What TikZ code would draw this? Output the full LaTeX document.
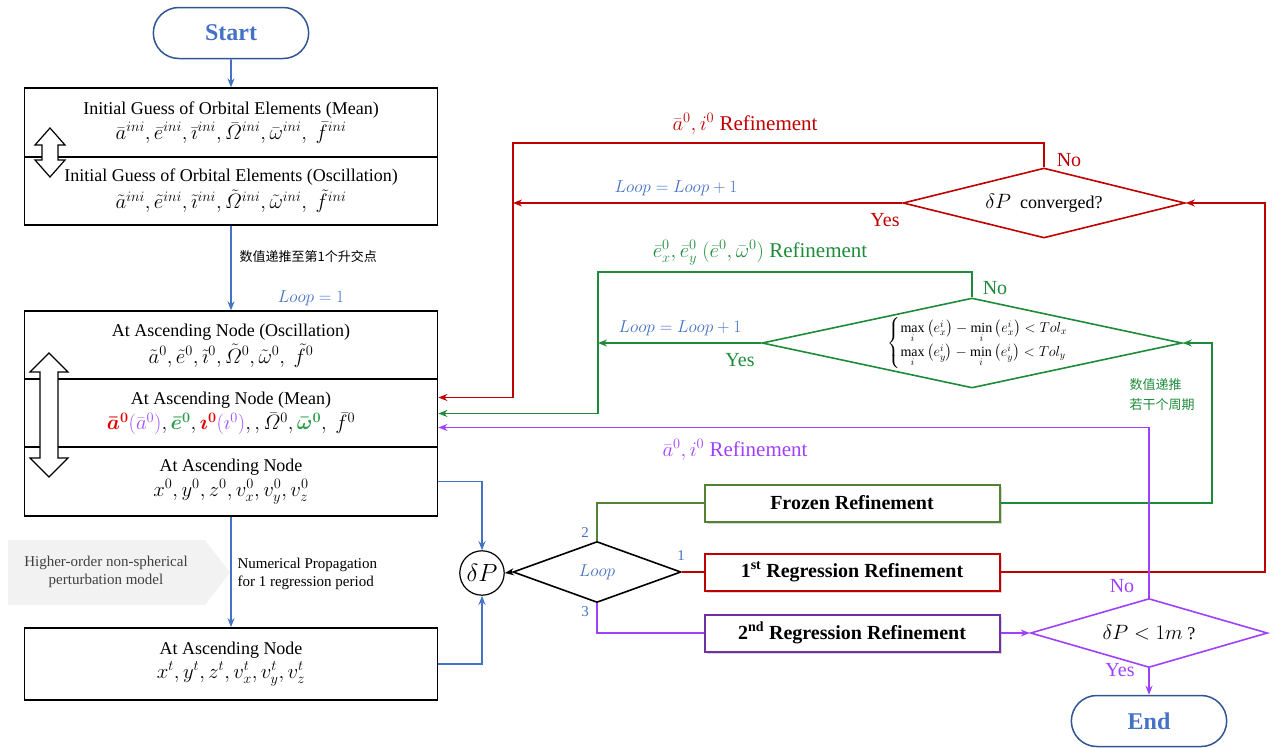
\documentclass[tikz,border=0pt]{standalone}
\usepackage{fontspec}
\usepackage{amsmath}
\setmainfont{Liberation Serif}
\newfontfamily\cjk{Noto Sans CJK SC}
\usetikzlibrary{shapes, arrows, arrows.meta, calc, fit, shadows}

\definecolor{startBlue}{HTML}{4472C4}
\definecolor{pillBlue}{HTML}{2F5597}
\definecolor{refRed}{HTML}{C00000}
\definecolor{refGreen}{HTML}{1E8B3A}
\definecolor{frozenGreen}{HTML}{548235}
\definecolor{refPurple}{HTML}{A040FF}
\definecolor{regPurple}{HTML}{7030A0}
\definecolor{mRed}{HTML}{E00000}
\definecolor{mGreen}{HTML}{2E9E4E}
\definecolor{mPurple}{HTML}{A050FF}
\definecolor{noteGray}{HTML}{404040}

\newcommand{\mathline}{\fontsize{20}{22}\selectfont}

\tikzstyle{terminal}  = [rounded rectangle,
                         minimum width=162pt,
                         minimum height=51pt,
                         draw=pillBlue,
                         line width=1.5pt,
                         text=startBlue,
                         font=\fontsize{24}{28}\selectfont\bfseries]
\tikzstyle{stateBox}  = [rectangle,
                         minimum width=413pt,
                         minimum height=68.5pt,
                         align=center,
                         draw=black,
                         line width=1.8pt,
                         fill=white,
                         font=\fontsize{18}{20}\selectfont]
\tikzstyle{refineBox} = [rectangle,
                         minimum width=295pt,
                         minimum height=37pt,
                         line width=2pt,
                         fill=white,
                         drop shadow={opacity=0.3, shadow xshift=2pt, shadow yshift=-2pt},
                         font=\fontsize{20}{24}\selectfont\bfseries]
\tikzstyle{decision}  = [diamond,
                         inner sep=0pt,
                         line width=1.6pt,
                         fill=white,
                         font=\fontsize{18}{21}\selectfont]
\tikzstyle{sumNode}   = [circle,
                         minimum size=44pt,
                         draw=black,
                         line width=1.2pt,
                         font=\fontsize{24}{28}\selectfont]
\tikzstyle{refLabel}  = [font=\fontsize{21}{24}\selectfont]
\tikzstyle{ynLabel}   = [font=\fontsize{20}{24}\selectfont]
\tikzstyle{loopLabel} = [text=startBlue, font=\fontsize{17}{19}\selectfont]
\tikzstyle{loopNum}   = [text=startBlue, font=\fontsize{15}{18}\selectfont]
\tikzstyle{noteText}  = [align=left, font=\fontsize{15}{18}\selectfont]
\tikzstyle{dblArrow}  = [draw=black, line width=1.2pt, fill=white]
\tikzstyle{arrow}     = [line width=1.8pt, ->, >={Stealth[length=9pt, width=7pt]}]
\tikzstyle{flowLine}  = [line width=1.8pt]

\begin{document}
\begin{tikzpicture}[x=1pt, y=-1pt]
        \useasboundingbox (0,0) rectangle (1276,747);

        % left column
        \node [terminal] (Start) at (231,33) {Start};

        \node [stateBox] (GuessMean) at (231,122.5) {
            Initial Guess of Orbital Elements (Mean)\\[3pt]
            {\mathline $\bar a^{ini},\bar e^{ini},\bar\imath^{ini},\bar{\mathnormal{\Omega}}^{ini},\bar\omega^{ini},\ \bar f^{ini}$}
            };
        \node [stateBox] (GuessOsc) at ([shift={(0,68.5)}] GuessMean) {
            Initial Guess of Orbital Elements (Oscillation)\\[3pt]
            {\mathline $\tilde a^{ini},\tilde e^{ini},\tilde\imath^{ini},\tilde{\mathnormal{\Omega}}^{ini},\tilde\omega^{ini},\ \tilde f^{ini}$}
            };

        \node [stateBox] (AscOsc) at (231,345.5) {
            At Ascending Node (Oscillation)\\[3pt]
            {\mathline $\tilde a^{0},\tilde e^{0},\tilde\imath^{0},\tilde{\mathnormal{\Omega}}^{0},\tilde\omega^{0},\ \tilde f^{0}$}
            };
        \node [stateBox] (AscMean) at ([shift={(0,68)}] AscOsc) {
            At Ascending Node (Mean)\\[3pt]
            {\mathline ${\color{mRed}\boldsymbol{\bar a^0}}{\color{mPurple}(\bar a^0)},{\color{mGreen}\boldsymbol{\bar e^0}},{\color{mRed}\boldsymbol{\imath^0}}{\color{mPurple}(\imath^0)},,\bar{\mathnormal{\Omega}}^0,{\color{mGreen}\boldsymbol{\bar\omega^0}},\ \bar f^0$}
            };
        \node [stateBox] (AscCart) at ([shift={(0,68)}] AscMean) {
            At Ascending Node\\[3pt]
            {\mathline $x^0,y^0,z^0,v_x^0,v_y^0,v_z^0$}
            };

        \node [stateBox, minimum height=72pt] (EndCart) at (231,664) {
            At Ascending Node\\[3pt]
            {\mathline $x^t,y^t,z^t,v_x^t,v_y^t,v_z^t$}
            };

        % mean <-> oscillation
        \draw [dblArrow] (50,128) -- (65,145) -- (58,145) -- (58,160) -- (65,160) -- (50,177)
                         -- (35,160) -- (42,160) -- (42,145) -- (35,145) -- cycle;
        \draw [dblArrow] (49,353) -- (68,372) -- (58,372) -- (58,458) -- (68,458) -- (49,477)
                         -- (30,458) -- (40,458) -- (40,372) -- (30,372) -- cycle;

        % perturbation model
        \fill [gray!10] (8,540) -- (205,540) -- (230,572.5) -- (205,605) -- (8,605) -- cycle;
        \node [noteText, align=center, text=noteGray] (ModelNote) at (106,572) {Higher-order non-spherical\\perturbation model};

        \node [noteText, anchor=west] (PropNote) at (234,574) {Numerical Propagation\\for 1 regression period};
        \node [anchor=west, font=\cjk\fontsize{13}{16}\selectfont] (FirstNodeNote) at (236,257) {数值递推至第1个升交点};
        \node [loopLabel] (LoopInit) at (311,298) {$Loop=1$};

        % loop selection
        \node [sumNode] (DeltaP) at (482,573) {$\delta P$};
        \node [decision, draw=black, minimum width=168pt, minimum height=61pt, shape aspect=2.75] (LoopSel) at (597,572) {\textcolor{startBlue}{\fontsize{19}{21}\selectfont$Loop$}};

        \node [refineBox, draw=frozenGreen] (Frozen) at (852,503) {Frozen Refinement};
        \node [refineBox, draw=refRed] (RegOne) at (852,572) {1\textsuperscript{st} Regression Refinement};
        \node [refineBox, draw=regPurple] (RegTwo) at (852,633) {2\textsuperscript{nd} Regression Refinement};

        \node [loopNum] (BranchTwo) at (585,533) {2};
        \node [loopNum] (BranchOne) at (681,556) {1};
        \node [loopNum] (BranchThree) at (585,612) {3};

        % convergence checks
        \node [decision, draw=refRed, minimum width=282pt, minimum height=70pt, shape aspect=4] (ConvA) at (1044,203) {{\fontsize{20}{22}\selectfont$\delta P$}\ \ converged?};
        \node [decision, draw=refGreen, minimum width=420pt, minimum height=90pt] (ConvE) at (972,343) {};
        \node [font=\fontsize{14}{16}\selectfont] (ConvEText) at (985,343) {$\begin{cases}\max\limits_i\left(e_x^i\right)-\min\limits_i\left(e_x^i\right)<Tol_x\\[2pt] \max\limits_i\left(e_y^i\right)-\min\limits_i\left(e_y^i\right)<Tol_y\end{cases}$};
        \node [decision, draw=refPurple, minimum width=237pt, minimum height=69pt, shape aspect=3.4] (ConvP) at (1149,633) {{\fontsize{20}{22}\selectfont$\delta P<1m$} ?};

        \node [terminal] (End) at (1149,721) {End};

        \coordinate (RedJoin) at (513,203);
        \coordinate (GreenJoin) at (598,343);

        % blue connectors
        \draw [arrow, startBlue] (Start) -- (GuessMean);
        \draw [arrow, startBlue] (GuessOsc) -- (AscOsc);
        \draw [arrow, startBlue] (AscCart) -- (EndCart);
        \draw [arrow, startBlue] (AscCart.east) -| (DeltaP.north);
        \draw [arrow, startBlue] (EndCart.east) -| (DeltaP.south);
        \draw [arrow] (LoopSel.west) -- (DeltaP.east);

        \draw [flowLine, frozenGreen] (LoopSel.north) |- (Frozen.west);
        \draw [flowLine, refRed] (LoopSel.east) -- (RegOne.west);
        \draw [flowLine, refPurple] (LoopSel.south) |- (RegTwo.west);

        % red loop
        \draw [arrow, refRed] (RegOne.east) -| (1265,203) -- (ConvA.east);
        \draw [arrow, refRed] (ConvA.north) |- (513,143) |- ([yshift=16pt]AscMean.east);
        \draw [arrow, refRed] (ConvA.west) -- (RedJoin);

        % green loop
        \draw [arrow, refGreen] (Frozen.east) -| (1212,343) -- (ConvE.east);
        \draw [arrow, refGreen] (ConvE.north) |- (598,272) |- (AscMean.east);
        \draw [arrow, refGreen] (ConvE.west) -- (GreenJoin);

        % purple loop
        \draw [arrow, refPurple] (RegTwo.east) -- (ConvP.west);
        \draw [arrow, refPurple] (ConvP.north) |- ([yshift=-14pt]AscMean.east);
        \draw [arrow, refPurple] (ConvP.south) -- (End.north);

        % labels
        \node [refLabel, text=refRed] (RedRefine) at (745,124) {$\bar a^0, i^0$ Refinement};
        \node [refLabel, text=refGreen] (GreenRefine) at (760,253) {$\bar e_x^0, \bar e_y^0\ (\bar e^0, \bar\omega^0)$ Refinement};
        \node [refLabel, text=refPurple] (PurpleRefine) at (735,450) {$\bar a^0, i^0$ Refinement};

        \node [loopLabel] (RedLoop) at (676,188) {$Loop=Loop+1$};
        \node [loopLabel] (GreenLoop) at (680,328) {$Loop=Loop+1$};

        \node [ynLabel, text=refRed] (RedNo) at (1069,160) {No};
        \node [ynLabel, text=refRed] (RedYes) at (885,220) {Yes};
        \node [ynLabel, text=refGreen] (GreenNo) at (995,288) {No};
        \node [ynLabel, text=refGreen] (GreenYes) at (740,360) {Yes};
        \node [ynLabel, text=refPurple] (PurpleNo) at (1122,586) {No};
        \node [ynLabel, text=refPurple] (PurpleYes) at (1120,670) {Yes};

        \node [noteText, text=refGreen, font=\cjk\fontsize{13}{20}\selectfont] (CycleNote) at (1162,395) {数值递推\\若干个周期};

    \end{tikzpicture}
\end{document}
